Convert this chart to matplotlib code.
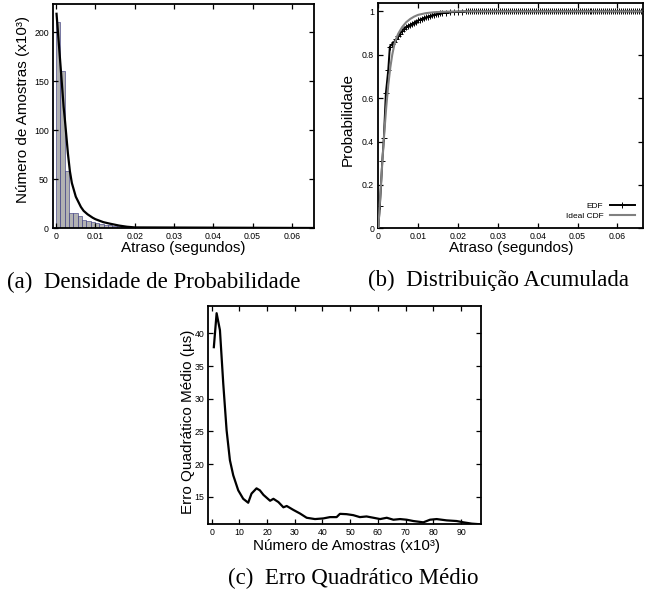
import matplotlib
matplotlib.use('Agg')
import matplotlib.pyplot as plt
import numpy as np

plt.rcParams['font.family'] = ['Liberation Sans', 'DejaVu Sans']

# ---- data: (a) histogram of delays ----
bin_width = 0.0011
hist_counts = [211, 160, 58, 15, 15.5, 12.5, 8.5, 7, 6, 5, 4, 3.4, 2.7, 2.2,
               1.8, 1.4, 1.0, 0.7, 0.3, 0.1]
pdf_x = [0.0001, 0.001, 0.0019, 0.0022, 0.003, 0.0035, 0.004, 0.005, 0.0063,
         0.007, 0.008, 0.0093, 0.010, 0.012, 0.0136, 0.016, 0.018, 0.020, 0.066]
pdf_y = [219, 172, 124, 112, 76, 58, 46, 32, 21.5, 17.5, 14, 10.5, 9,
         6, 4.5, 2.5, 1.3, 0.6, 0.0]

# ---- data: (b) cumulative distributions ----
edf_x = [0, 0.0004, 0.001, 0.0014, 0.0019, 0.0025, 0.0029, 0.0035, 0.004,
         0.0045, 0.005, 0.0055, 0.006, 0.0065, 0.007, 0.0075, 0.008, 0.0085,
         0.009, 0.0095, 0.010, 0.0105, 0.011, 0.0115, 0.012, 0.0125, 0.013,
         0.0135, 0.014, 0.0145, 0.015, 0.0155, 0.016, 0.017, 0.018, 0.019,
         0.020, 0.021, 0.022]
edf_y = [0, 0.105, 0.31, 0.417, 0.623, 0.73, 0.838, 0.85, 0.86, 0.872, 0.885,
         0.898, 0.91, 0.92, 0.928, 0.933, 0.938, 0.943, 0.948, 0.953, 0.958,
         0.962, 0.966, 0.97, 0.973, 0.976, 0.979, 0.982, 0.985, 0.987, 0.989,
         0.991, 0.992, 0.994, 0.996, 0.997, 0.998, 0.999, 1.0]
edf_tail_x = list(np.arange(0.0225, 0.0665, 0.0005))
edf_tail_y = [1.0] * len(edf_tail_x)
cdf_x = [0, 0.0005, 0.001, 0.0015, 0.002, 0.0025, 0.003, 0.0035, 0.004,
         0.0045, 0.005, 0.006, 0.007, 0.008, 0.009, 0.010, 0.012, 0.014,
         0.016, 0.020, 0.066]
cdf_y = [0, 0.15, 0.30, 0.44, 0.56, 0.66, 0.74, 0.80, 0.845, 0.875, 0.897,
         0.928, 0.950, 0.965, 0.976, 0.984, 0.992, 0.996, 0.998, 1.0, 1.0]

# ---- data: (c) mean squared error vs number of samples ----
mse_x = [0.8, 1.8, 3.0, 4.2, 5.4, 6.6, 7.8, 9.6, 11.4, 13.2, 14.4, 16.2, 17.4,
         18.7, 21.1, 22.3, 24.1, 25.9, 27.1, 29.5, 31.9, 34.3, 37.3, 40.3,
         42.7, 45.1, 46.3, 48.7, 51.1, 53.5, 55.9, 58.4, 60.8, 63.2, 65.6,
         68.0, 70.4, 72.8, 76.4, 78.8, 81.2, 84.8, 88.4, 90.9, 93.9, 97.1]
mse_y = [37.9, 43.1, 40.5, 32.3, 25.2, 20.6, 18.3, 16.0, 14.7, 14.1, 15.5,
         16.3, 16.0, 15.3, 14.4, 14.7, 14.2, 13.4, 13.6, 13.0, 12.45, 11.8,
         11.6, 11.7, 11.9, 11.9, 12.4, 12.35, 12.2, 11.9, 12.0, 11.8, 11.6,
         11.8, 11.5, 11.6, 11.5, 11.3, 11.1, 11.5, 11.6, 11.4, 11.3, 11.1,
         10.9, 10.8]

W, H = 652, 594
fig = plt.figure(figsize=(W / 100, H / 100), dpi=100)

def px_axes(l, t, r, b):
    return fig.add_axes([l / W, 1 - b / H, (r - l) / W, (b - t) / H])

def style(ax):
    ax.tick_params(direction='in', length=3.5, width=0.9, labelsize=6.3,
                   top=True, right=True, pad=3)
    for s in ax.spines.values():
        s.set_linewidth(1.3)

# (a) Densidade de Probabilidade
ax1 = px_axes(53, 4, 314.3, 228)
edges = np.arange(len(hist_counts) + 1) * bin_width
ax1.bar(edges[:-1], hist_counts, width=bin_width, align='edge',
        color='#b2b2b2', edgecolor='#2e2e78', linewidth=0.4)
ax1.plot(pdf_x, pdf_y, color='black', lw=1.6)
ax1.set_xlim(-0.0008, 0.0657)
ax1.set_ylim(0, 229)
ax1.set_xticks([0, 0.01, 0.02, 0.03, 0.04, 0.05, 0.06])
ax1.set_xticklabels(['0', '0.01', '0.02', '0.03', '0.04', '0.05', '0.06'])
ax1.set_yticks([0, 50, 100, 150, 200])
style(ax1)
ax1.set_xlabel('Atraso (segundos)', fontsize=11)
ax1.xaxis.set_label_coords(0.5, -0.089)
ax1.xaxis.label.set_va('center')
ax1.set_ylabel('Número de Amostras (x10³)', fontsize=11)
ax1.yaxis.set_label_coords(-0.115, 0.527)
ax1.yaxis.label.set_va('center')

# (b) Distribuição Acumulada
ax2 = px_axes(378.3, 2.7, 643.3, 228.3)
ax2.plot(edf_x + edf_tail_x, edf_y + edf_tail_y, color='black', lw=1.4,
         marker='+', markersize=5, markeredgewidth=0.7, label='EDF', zorder=2)
ax2.plot(cdf_x, cdf_y, color='#808080', lw=1.5, label='Ideal CDF', zorder=3)
ax2.set_xlim(0, 0.0665)
ax2.set_ylim(0, 1.04)
ax2.set_xticks([0, 0.01, 0.02, 0.03, 0.04, 0.05, 0.06])
ax2.set_xticklabels(['0', '0.01', '0.02', '0.03', '0.04', '0.05', '0.06'])
ax2.set_yticks([0, 0.2, 0.4, 0.6, 0.8, 1])
ax2.set_yticklabels(['0', '0.2', '0.4', '0.6', '0.8', '1'])
style(ax2)
ax2.legend(loc='lower right', frameon=False, fontsize=6, markerfirst=False,
           handlelength=3, labelspacing=0.25, borderaxespad=0.6)
ax2.set_xlabel('Atraso (segundos)', fontsize=11)
ax2.xaxis.set_label_coords(0.5, -0.087)
ax2.xaxis.label.set_va('center')
ax2.set_ylabel('Probabilidade', fontsize=11)
ax2.yaxis.set_label_coords(-0.114, 0.484)
ax2.yaxis.label.set_va('center')

# (c) Erro Quadrático Médio
ax3 = px_axes(208.3, 306, 480.7, 524.3)
ax3.plot(mse_x, mse_y, color='black', lw=1.6)
ax3.set_xlim(-1.2, 97.1)
ax3.set_ylim(10.8, 44.2)
ax3.set_xticks([0, 10, 20, 30, 40, 50, 60, 70, 80, 90])
ax3.set_yticks([15, 20, 25, 30, 35, 40])
style(ax3)
ax3.set_xlabel('Número de Amostras (x10³)', fontsize=11)
ax3.xaxis.set_label_coords(0.508, -0.099)
ax3.xaxis.label.set_va('center')
ax3.set_ylabel('Erro Quadrático Médio (µs)', fontsize=11)
ax3.yaxis.set_label_coords(-0.0745, 0.47)
ax3.yaxis.label.set_va('center')

# captions
cap = dict(fontsize=16.5, family='Liberation Serif', ha='center', va='center')
fig.text(154 / W, 1 - 282 / H, '(a)  Densidade de Probabilidade', **cap)
fig.text(498 / W, 1 - 280 / H, '(b)  Distribuição Acumulada', **cap)
fig.text(353.5 / W, 1 - 578 / H, '(c)  Erro Quadrático Médio', **cap)

fig.savefig('out.png', dpi=100, facecolor='white')
